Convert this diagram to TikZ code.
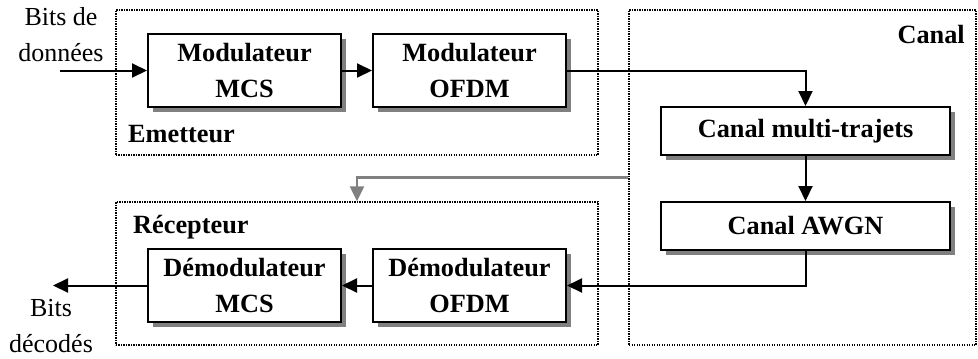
\documentclass[tikz,border=0pt]{standalone}
\usepackage{fontspec}
\setmainfont{Liberation Serif}
\usetikzlibrary{arrows.meta,shadows}
\begin{document}
\begin{tikzpicture}[x=1bp,y=-1bp,
  every node/.style={font=\fontsize{26bp}{36bp}\selectfont},
  block/.style={draw, line width=2bp, fill=white, align=center, inner sep=0pt,
    font=\fontsize{26.3bp}{36bp}\selectfont\bfseries,
    drop shadow={shadow xshift=5bp, shadow yshift=-5bp, fill=black!50, opacity=1}},
  group/.style={draw, line width=1.4bp, dash pattern=on 1.4bp off 1.1bp, inner sep=0pt},
  arr/.style={line width=2bp, -{Triangle[length=15bp,width=14bp]}},
  garr/.style={line width=2.3bp, draw=black!50, -{Triangle[length=15bp,width=14bp]}},
  lbl/.style={font=\fontsize{26.3bp}{36bp}\selectfont\bfseries, inner sep=0pt}
]
\useasboundingbox (0,0) rectangle (978,358);
% groups
\node[group, minimum width=482bp, minimum height=145bp] (emet) at (357,82.5) {};
\node[group, minimum width=347bp, minimum height=335bp] (canal) at (802.5,177.5) {};
\node[group, minimum width=482bp, minimum height=143bp] (rec) at (357,273.5) {};
\node[lbl, anchor=base west] (lemet) at (128,142) {Emetteur};
\node[lbl, anchor=base east] (lcanal) at (965,43) {Canal};
\node[lbl, anchor=base west] (lrec) at (133,233) {Récepteur};
% blocks
\node[block, minimum width=193bp, minimum height=73bp] (mcs) at (244.5,70.5) {Modulateur\\MCS};
\node[block, minimum width=193bp, minimum height=73bp] (ofdm) at (469.5,70.5) {Modulateur\\OFDM};
\node[block, minimum width=289bp, minimum height=48bp] (multi) at (805.5,131) {Canal multi-trajets};
\node[block, minimum width=289bp, minimum height=48bp] (awgn) at (805.5,226) {Canal AWGN};
\node[block, minimum width=193bp, minimum height=73bp] (dmcs) at (244.5,285.5) {Démodulateur\\MCS};
\node[block, minimum width=193bp, minimum height=73bp] (dofdm) at (469.5,285.5) {Démodulateur\\OFDM};
% outer labels
\node[align=center, inner sep=0pt] (lin) at (61,35) {Bits de\\données};
\node[align=center, inner sep=0pt] (lout) at (51,326) {Bits\\décodés};
\coordinate (in) at (60,70.5);
\coordinate (out) at (53,285.5);
% connectors
\draw[arr] (in) -- (mcs.west);
\draw[arr] (mcs) -- (ofdm);
\draw[arr] (ofdm.east) -| (multi.north);
\draw[arr] (multi) -- (awgn);
\draw[arr] (awgn.south) |- (dofdm.east);
\draw[arr] (dofdm) -- (dmcs);
\draw[arr] (dmcs.west) -- (out);
\draw[garr] (canal.west) -| (rec.north);
\end{tikzpicture}
\end{document}
